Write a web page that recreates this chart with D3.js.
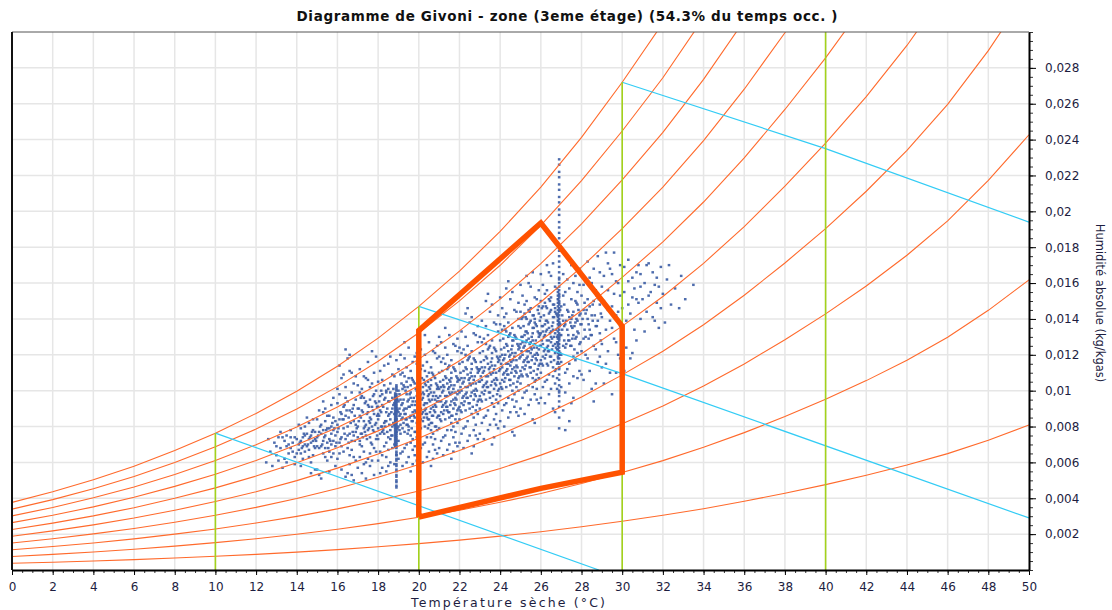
<!DOCTYPE html>
<html><head><meta charset="utf-8">
<script src="https://cdn.jsdelivr.net/npm/d3@7"></script>
<style>
html,body{margin:0;padding:0;background:#fff;}
svg{display:block;font-family:"DejaVu Sans",Verdana,sans-serif;}
</style></head><body>
<svg id="chart" width="1112" height="610"></svg>
<script>
// ---- Chart data -------------------------------------------------------
const chartTitle = "Diagramme de Givoni - zone (3eme étage) (54.3% du temps occ. )";
const xTitle = "Température sèche (°C)";
const yTitle = "Humidité absolue (kg/kgas)";

// Axis ticks
const xTickValues = [0,2,4,6,8,10,12,14,16,18,20,22,24,26,28,30,32,34,36,38,40,42,44,46,48,50];
const yTickValues = [0.002,0.004,0.006,0.008,0.01,0.012,0.014,0.016,0.018,0.02,0.022,0.024,0.026,0.028];
const yTickLabels = ["0,002","0,004","0,006","0,008","0,01","0,012","0,014","0,016","0,018","0,02","0,022","0,024","0,026","0,028"];

// Saturation humidity (g/kg dry air) by dry-bulb temperature
const satTemps    = [0,2,4,6,8,10,12,14,16,18,20,22,24,26,28,30,32,34,36,38,40,42,44,46,48,50];
const satHumidity = [3.77,4.36,5.03,5.79,6.66,7.63,8.73,9.97,11.36,12.93,14.70,16.67,18.88,21.35,24.12,27.2,30.5,34.2,38.3,42.8,47.6,52.8,58.5,64.9,72.4,80.9];
// Relative humidity curves (%)
const rhLevels = [10,20,30,40,50,60,70,80,90,100];

// Dry-bulb markers (°C) and their upper end (g/kg)
const dryBulbT   = [10,20,30,40];
const dryBulbTop = [7.63,14.7,27.2,30];

// Constant-enthalpy lines: [T °C, w g/kg]
const enthalpy10 = [[10,7.63],[28.85,0]];
const enthalpy20 = [[20,14.7],[30,10.95],[50,2.9]];
const enthalpy30 = [[30,27.2],[40,23.5],[50,19.4]];

// Givoni comfort zone outline: [T °C, w g/kg]
const comfortZone = [[20,2.95],[20,13.35],[26,19.35],[30,13.6],[30,5.45],[26,4.55],[20,2.95]];

// Hourly zone conditions during occupancy: [T °C, w g/kg]
const zoneHours = [
[12.5,6.0],[12.7,6.6],[12.8,5.8],[12.9,7.1],[12.6,7.3],[13.0,6.4],
[13.1,7.4],[13.3,7.4],[13.5,7.5],[13.7,7.4],[13.9,7.4],[13.2,6.8],[13.4,6.2],[13.6,7.0],[13.8,6.6],[13.1,6.1],[13.3,5.7],[13.5,6.9],[13.7,7.8],[13.9,6.3],[13.4,7.2],[13.6,6.5],[13.8,7.1],[13.2,7.7],[13.9,5.9],[13.5,6.0],[13.7,6.8],[13.0,6.9],
[14.0,7.3],[14.1,6.7],[14.2,7.9],[14.3,6.2],[14.4,7.5],[14.5,6.9],[14.6,8.2],[14.7,7.1],[14.8,6.4],[14.9,7.7],[14.1,7.0],[14.2,5.8],[14.3,7.4],[14.4,6.6],[14.5,8.5],[14.6,7.3],[14.7,6.0],[14.8,7.8],[14.9,6.8],[14.0,6.5],[14.2,7.2],[14.4,8.0],[14.6,6.3],[14.8,7.2],[14.3,6.9],[14.5,7.6],[14.7,7.5],[14.9,5.6],[14.1,8.1],[14.6,6.7],[14.8,8.4],[14.4,7.0],[14.2,6.5],[14.9,7.3],[14.7,5.4],
[15.0,7.4],[15.1,6.8],[15.2,8.1],[15.3,7.2],[15.4,6.3],[15.5,7.9],[15.6,8.6],[15.7,7.0],[15.8,6.5],[15.9,8.3],[15.0,5.6],[15.1,7.7],[15.2,6.9],[15.3,8.8],[15.4,7.5],[15.5,6.1],[15.6,7.3],[15.7,9.2],[15.8,7.8],[15.9,6.9],[15.0,8.4],[15.2,7.6],[15.4,8.3],[15.6,6.6],[15.8,7.2],[15.1,5.3],[15.3,6.5],[15.5,7.1],[15.7,8.0],[15.9,7.5],[15.2,5.1],[15.4,9.0],[15.6,7.9],[15.8,9.6],[15.0,6.9],[15.3,7.8],[15.5,8.6],[15.7,6.3],[15.9,5.8],[15.1,8.9],[15.4,6.8],[15.6,5.5],[15.8,8.5],[15.3,9.4],[15.7,7.6],
[16.0,7.7],[16.1,8.4],[16.2,6.9],[16.3,9.1],[16.4,7.3],[16.5,8.0],[16.6,6.4],[16.7,8.8],[16.8,7.5],[16.9,9.5],[16.0,6.2],[16.1,7.1],[16.2,8.7],[16.3,7.9],[16.4,10.2],[16.5,6.8],[16.6,7.6],[16.7,9.9],[16.8,8.3],[16.9,6.1],[16.0,9.3],[16.2,10.7],[16.4,8.6],[16.6,11.1],[16.8,10.4],[16.1,11.4],[16.3,10.9],[16.5,11.8],[16.7,11.0],[16.9,10.8],[16.2,5.6],[16.4,5.2],[16.6,5.9],[16.8,5.0],[16.5,5.4],[16.0,8.1],[16.3,6.6],[16.5,9.4],[16.7,7.2],[16.9,8.1],[16.1,9.8],[16.3,8.4],[16.5,7.5],[16.7,6.7],[16.9,7.7],[16.2,7.4],[16.4,9.6],[16.6,8.9],[16.8,6.3],[16.0,10.1],[16.6,12.0],[16.4,12.3],[16.8,9.2],[16.1,6.5],[16.7,5.3],
[17.0,8.0],[17.1,7.2],[17.2,8.9],[17.3,6.6],[17.4,9.4],[17.5,7.8],[17.6,8.5],[17.7,7.0],[17.8,9.8],[17.9,8.2],[17.0,10.3],[17.1,6.3],[17.2,7.6],[17.3,8.3],[17.4,6.0],[17.5,10.6],[17.6,7.4],[17.7,9.1],[17.8,6.8],[17.9,10.0],[17.0,5.7],[17.2,5.4],[17.4,5.1],[17.6,5.8],[17.8,5.3],[17.1,11.2],[17.3,10.8],[17.5,11.6],[17.7,10.4],[17.9,11.9],[17.0,9.0],[17.1,8.6],[17.2,9.7],[17.3,7.9],[17.4,8.1],[17.5,9.2],[17.6,6.5],[17.7,8.0],[17.8,7.7],[17.9,7.3],[17.0,7.4],[17.2,6.9],[17.4,7.5],[17.6,9.5],[17.8,8.7],[17.1,9.9],[17.3,9.6],[17.5,6.2],[17.7,6.1],[17.9,9.3],[17.2,10.1],[17.4,10.7],[17.6,10.2],[17.8,11.0],[17.5,8.8],[17.3,5.9],[17.7,12.2],[17.1,7.0],[17.9,6.6],[17.6,8.2],
[18.0,8.4],[18.1,7.6],[18.2,9.2],[18.3,6.9],[18.4,8.8],[18.5,10.1],[18.6,7.3],[18.7,9.6],[18.8,8.1],[18.9,9.0],[18.0,10.5],[18.1,9.7],[18.2,6.4],[18.3,8.2],[18.4,7.1],[18.5,8.6],[18.6,9.9],[18.7,6.8],[18.8,10.8],[18.9,7.7],[18.0,6.1],[18.2,5.7],[18.4,5.5],[18.6,6.0],[18.8,5.9],[18.1,11.1],[18.3,10.3],[18.5,11.5],[18.7,10.9],[18.9,11.7],[18.0,9.1],[18.1,8.9],[18.2,8.0],[18.3,9.5],[18.4,9.9],[18.5,7.4],[18.6,8.4],[18.7,8.0],[18.8,9.3],[18.9,8.4],[18.0,7.3],[18.2,7.7],[18.4,8.3],[18.6,10.4],[18.8,7.0],[18.1,6.6],[18.3,7.6],[18.5,6.7],[18.7,7.5],[18.9,6.4],[18.2,10.6],[18.4,10.0],[18.6,11.9],[18.8,8.7],[18.0,7.9],[18.3,11.4],[18.5,9.4],[18.7,9.0],[18.1,5.4],[18.9,10.2],[18.4,6.3],[18.6,7.8],[18.2,9.8],[18.0,8.7],[18.5,5.8],
[19.0,8.8],[19.1,9.5],[19.2,7.9],[19.3,10.2],[19.4,8.4],[19.5,9.1],[19.6,7.5],[19.7,10.6],[19.8,8.9],[19.9,9.7],[19.0,7.2],[19.1,10.9],[19.2,9.3],[19.3,6.8],[19.4,11.3],[19.5,8.0],[19.6,9.9],[19.7,7.3],[19.8,10.4],[19.9,8.2],[19.0,10.0],[19.1,8.1],[19.2,11.0],[19.3,9.0],[19.4,7.0],[19.5,10.7],[19.6,8.6],[19.7,9.4],[19.8,7.7],[19.9,11.5],[19.0,6.2],[19.2,5.8],[19.4,6.0],[19.6,5.5],[19.8,6.4],[19.1,12.0],[19.3,11.8],[19.5,12.4],[19.7,11.6],[19.9,12.1],[19.0,9.4],[19.1,7.6],[19.2,8.5],[19.3,8.7],[19.4,9.8],[19.5,7.8],[19.6,10.3],[19.7,8.3],[19.8,9.2],[19.9,7.4],[19.0,11.2],[19.2,6.6],[19.4,10.5],[19.6,11.1],[19.8,6.9],[19.1,6.5],[19.3,7.7],[19.5,6.3],[19.7,6.7],[19.9,10.0],[19.2,10.1],[19.4,9.0],[19.6,9.6],[19.8,11.9],[19.0,8.0],[19.3,12.7],[19.5,9.5],[19.7,8.8],[19.9,6.1],[19.1,8.7],[19.4,8.1],[19.6,7.1],[19.8,8.5],[19.3,10.8],[19.7,5.9],
[20.0,9.0],[20.1,9.8],[20.2,8.3],[20.3,10.4],[20.4,8.7],[20.5,9.5],[20.6,7.8],[20.7,10.9],[20.8,9.2],[20.9,10.1],[20.0,7.5],[20.1,11.2],[20.2,9.6],[20.3,7.1],[20.4,11.6],[20.5,8.4],[20.6,10.3],[20.7,7.6],[20.8,10.7],[20.9,8.5],[20.0,10.6],[20.1,8.4],[20.2,11.4],[20.3,9.3],[20.4,7.4],[20.5,11.0],[20.6,9.0],[20.7,9.7],[20.8,8.0],[20.9,11.8],[20.0,6.4],[20.2,6.0],[20.4,6.3],[20.6,5.8],[20.8,6.7],[20.1,12.3],[20.3,12.0],[20.5,12.7],[20.7,12.2],[20.9,12.5],[20.0,9.7],[20.1,7.9],[20.2,8.8],[20.3,8.9],[20.4,10.0],[20.5,8.1],[20.6,10.6],[20.7,8.6],[20.8,9.5],[20.9,7.8],[20.0,11.5],[20.2,7.0],[20.4,10.8],[20.6,11.3],[20.8,7.3],[20.1,6.8],[20.3,8.0],[20.5,6.6],[20.7,7.0],[20.9,10.3],[20.2,10.2],[20.4,9.3],[20.6,9.9],[20.8,12.1],[20.0,8.2],[20.3,13.1],[20.5,9.8],[20.7,9.1],[20.9,6.5],[20.1,9.0],[20.4,8.5],[20.6,7.4],[20.8,8.8],[20.3,11.1],[20.7,6.2],[20.5,10.2],[20.9,9.4],[20.2,9.9],[20.6,8.2],[20.0,12.9],
[21.0,9.4],[21.1,10.2],[21.2,8.7],[21.3,10.8],[21.4,9.1],[21.5,9.9],[21.6,8.2],[21.7,11.3],[21.8,9.6],[21.9,10.5],[21.0,7.9],[21.1,11.6],[21.2,10.0],[21.3,7.5],[21.4,12.0],[21.5,8.8],[21.6,10.7],[21.7,8.0],[21.8,11.1],[21.9,8.9],[21.0,11.0],[21.1,8.8],[21.2,11.8],[21.3,9.7],[21.4,7.8],[21.5,11.4],[21.6,9.4],[21.7,10.1],[21.8,8.4],[21.9,12.2],[21.0,6.8],[21.2,6.4],[21.4,6.7],[21.6,6.2],[21.8,7.1],[21.1,12.7],[21.3,12.4],[21.5,13.1],[21.7,12.6],[21.9,12.9],[21.0,10.1],[21.1,8.3],[21.2,9.2],[21.3,9.3],[21.4,10.4],[21.5,8.5],[21.6,11.0],[21.7,9.0],[21.8,9.9],[21.9,8.2],[21.0,11.9],[21.2,7.4],[21.4,11.2],[21.6,11.7],[21.8,7.7],[21.1,7.2],[21.3,8.4],[21.5,7.0],[21.7,7.4],[21.9,10.7],[21.2,10.6],[21.4,9.7],[21.6,10.3],[21.8,12.5],[21.0,8.6],[21.3,13.5],[21.5,10.2],[21.7,9.5],[21.9,6.9],[21.1,9.4],[21.4,8.9],[21.6,7.8],[21.8,9.2],[21.3,11.5],[21.7,6.6],[21.5,10.6],[21.9,9.8],[21.2,10.3],[21.6,8.6],[21.0,13.0],
[22.0,9.9],[22.1,10.7],[22.2,9.2],[22.3,11.3],[22.4,9.6],[22.5,10.4],[22.6,8.7],[22.7,11.8],[22.8,10.1],[22.9,11.0],[22.0,8.4],[22.1,12.1],[22.2,10.5],[22.3,8.0],[22.4,12.5],[22.5,9.3],[22.6,11.2],[22.7,8.5],[22.8,11.6],[22.9,9.4],[22.0,11.5],[22.1,9.3],[22.2,12.3],[22.3,10.2],[22.4,8.3],[22.5,11.9],[22.6,9.9],[22.7,10.6],[22.8,8.9],[22.9,12.7],[22.0,7.1],[22.2,6.8],[22.4,7.2],[22.6,6.5],[22.8,7.5],[22.1,13.3],[22.3,13.0],[22.5,13.8],[22.7,13.2],[22.9,13.6],[22.0,10.6],[22.1,8.8],[22.2,9.7],[22.3,9.8],[22.4,10.9],[22.5,9.0],[22.6,11.5],[22.7,9.5],[22.8,10.4],[22.9,8.7],[22.0,12.4],[22.2,7.9],[22.4,11.7],[22.6,12.2],[22.8,8.1],[22.1,7.6],[22.3,8.9],[22.5,7.5],[22.7,7.8],[22.9,11.2],[22.2,11.1],[22.4,10.2],[22.6,10.8],[22.8,13.1],[22.0,9.1],[22.3,14.3],[22.5,10.7],[22.7,10.0],[22.9,7.3],[22.1,10.0],[22.4,14.6],[22.6,14.1],[22.8,9.7],[22.3,12.0],[22.7,6.9],
[23.0,10.5],[23.1,11.3],[23.2,9.8],[23.3,11.9],[23.4,10.2],[23.5,11.0],[23.6,9.3],[23.7,12.4],[23.8,10.7],[23.9,11.6],[23.0,9.0],[23.1,12.7],[23.2,11.1],[23.3,8.6],[23.4,13.1],[23.5,9.9],[23.6,11.8],[23.7,9.1],[23.8,12.2],[23.9,10.0],[23.0,12.1],[23.1,9.9],[23.2,12.9],[23.3,10.8],[23.4,8.9],[23.5,12.5],[23.6,10.5],[23.7,11.2],[23.8,9.5],[23.9,13.3],[23.0,7.6],[23.2,7.3],[23.4,7.8],[23.6,7.0],[23.8,8.1],[23.1,13.9],[23.3,13.6],[23.5,14.4],[23.7,13.8],[23.9,14.2],[23.0,11.2],[23.1,9.4],[23.2,10.3],[23.3,10.4],[23.4,11.5],[23.5,9.6],[23.6,12.1],[23.7,10.1],[23.8,11.0],[23.9,9.3],[23.0,13.0],[23.2,8.5],[23.4,12.3],[23.6,12.8],[23.8,8.7],[23.1,8.2],[23.3,9.5],[23.5,8.1],[23.7,8.4],[23.9,11.8],[23.2,11.7],[23.4,10.8],[23.6,11.4],[23.8,13.7],[23.0,9.7],[23.3,15.0],[23.5,11.3],[23.7,10.6],[23.9,7.9],[23.1,10.6],[23.4,15.4],[23.6,14.8],[23.8,10.3],[23.3,12.6],[23.7,7.4],
[24.0,11.2],[24.1,12.0],[24.2,10.5],[24.3,12.6],[24.4,10.9],[24.5,11.7],[24.6,10.0],[24.7,13.1],[24.8,11.4],[24.9,12.3],[24.0,9.7],[24.1,13.4],[24.2,11.8],[24.3,9.3],[24.4,13.8],[24.5,10.6],[24.6,12.5],[24.7,9.8],[24.8,12.9],[24.9,10.7],[24.0,12.8],[24.1,10.6],[24.2,13.6],[24.3,11.5],[24.4,9.6],[24.5,13.2],[24.6,11.2],[24.7,11.9],[24.8,10.2],[24.9,14.0],[24.0,8.3],[24.2,8.0],[24.4,8.5],[24.6,7.7],[24.8,8.8],[24.1,14.6],[24.3,14.3],[24.5,15.1],[24.7,14.5],[24.9,14.9],[24.0,11.9],[24.1,10.1],[24.2,11.0],[24.3,11.1],[24.4,12.2],[24.5,10.3],[24.6,12.8],[24.7,10.8],[24.8,11.7],[24.9,10.0],[24.0,13.7],[24.2,9.2],[24.4,13.0],[24.6,13.5],[24.8,9.4],[24.1,8.9],[24.3,10.2],[24.5,8.8],[24.7,9.1],[24.9,12.5],[24.2,12.4],[24.4,11.5],[24.6,12.1],[24.8,14.4],[24.0,10.4],[24.3,15.7],[24.5,12.0],[24.7,11.3],[24.9,8.6],[24.1,11.3],[24.4,16.1],[24.6,15.5],[24.8,11.0],[24.3,13.3],[24.7,7.5],[24.5,11.4],[24.9,13.6],[24.2,14.1],[24.6,9.5],[24.0,15.2],
[25.0,11.9],[25.1,12.7],[25.2,11.2],[25.3,13.3],[25.4,11.6],[25.5,12.4],[25.6,10.7],[25.7,13.8],[25.8,12.1],[25.9,13.0],[25.0,10.4],[25.1,14.1],[25.2,12.5],[25.3,10.0],[25.4,14.5],[25.5,11.3],[25.6,13.2],[25.7,10.5],[25.8,13.6],[25.9,11.4],[25.0,13.5],[25.1,11.3],[25.2,14.3],[25.3,12.2],[25.4,10.3],[25.5,13.9],[25.6,11.9],[25.7,12.6],[25.8,10.9],[25.9,14.7],[25.0,9.0],[25.2,8.7],[25.4,9.2],[25.6,8.4],[25.8,9.5],[25.1,15.3],[25.3,15.0],[25.5,15.8],[25.7,15.2],[25.9,15.6],[25.0,12.6],[25.1,10.8],[25.2,11.7],[25.3,11.8],[25.4,12.9],[25.5,11.0],[25.6,13.5],[25.7,11.5],[25.8,12.4],[25.9,10.7],[25.0,14.4],[25.2,9.9],[25.4,13.7],[25.6,14.2],[25.8,10.1],[25.1,9.6],[25.3,10.9],[25.5,9.5],[25.7,9.8],[25.9,13.2],[25.2,13.1],[25.4,12.2],[25.6,12.8],[25.8,15.1],[25.0,11.1],[25.3,16.4],[25.5,12.7],[25.7,12.0],[25.9,9.3],[25.1,12.0],[25.4,16.0],[25.6,16.6],[25.8,11.7],[25.3,14.0],[25.7,8.2],[25.5,12.1],[25.9,14.3],[25.2,14.8],[25.6,10.2],[25.0,15.9],[25.1,13.0],[25.3,12.8],[25.5,14.6],[25.7,14.0],[25.9,12.3],
[26.0,12.5],[26.1,13.3],[26.2,11.8],[26.3,13.9],[26.4,12.2],[26.5,13.0],[26.6,11.3],[26.7,14.4],[26.8,12.7],[26.9,13.6],[26.0,11.0],[26.1,14.7],[26.2,13.1],[26.3,10.6],[26.4,15.1],[26.5,11.9],[26.6,13.8],[26.7,11.1],[26.8,14.2],[26.9,12.0],[26.0,14.1],[26.1,11.9],[26.2,14.9],[26.3,12.8],[26.4,10.9],[26.5,14.5],[26.6,12.5],[26.7,13.2],[26.8,11.5],[26.9,15.3],[26.0,9.6],[26.2,9.3],[26.4,9.8],[26.6,9.0],[26.8,10.1],[26.1,15.9],[26.3,15.6],[26.5,16.4],[26.7,15.8],[26.9,16.2],[26.0,13.2],[26.1,11.4],[26.2,12.3],[26.3,12.4],[26.4,13.5],[26.5,11.6],[26.6,14.1],[26.7,12.1],[26.8,13.0],[26.9,11.3],[26.0,15.0],[26.2,10.5],[26.4,14.3],[26.6,14.8],[26.8,10.7],[26.1,10.2],[26.3,11.5],[26.5,10.1],[26.7,10.4],[26.9,13.8],[26.2,13.7],[26.4,12.8],[26.6,13.4],[26.8,15.7],[26.0,11.7],[26.3,17.0],[26.5,13.3],[26.7,12.6],[26.9,9.9],[26.1,12.6],[26.4,16.6],[26.6,17.1],[26.8,12.3],[26.3,14.6],[26.7,8.8],[26.5,12.7],[26.9,14.9],[26.2,15.4],[26.6,10.8],[26.0,16.5],[26.1,13.6],[26.3,13.4],[26.5,15.2],[26.7,14.6],[26.9,12.9],
[27.0,13.1],[27.1,13.9],[27.2,12.4],[27.3,14.5],[27.4,12.8],[27.5,13.6],[27.6,11.9],[27.7,15.0],[27.8,13.3],[27.9,14.2],[27.0,11.6],[27.1,15.3],[27.2,13.7],[27.3,11.2],[27.4,15.7],[27.5,12.5],[27.6,14.4],[27.7,11.7],[27.8,14.8],[27.9,12.6],[27.0,14.7],[27.1,12.5],[27.2,15.5],[27.3,13.4],[27.4,11.5],[27.5,15.1],[27.6,13.1],[27.7,13.8],[27.8,12.1],[27.9,15.9],[27.0,10.2],[27.2,9.9],[27.4,10.4],[27.6,9.6],[27.8,10.7],[27.1,16.5],[27.3,16.2],[27.5,17.0],[27.7,16.4],[27.9,16.8],[27.0,12.0],[27.2,11.0],[27.4,14.1],[27.6,10.8],[27.8,13.9],[27.1,8.9],[27.3,17.4],[27.5,9.3],[27.7,12.9],[27.9,11.1],[27.2,7.8],[27.4,8.3],[27.6,16.0],[27.8,15.5],[27.5,14.0],
[28.0,13.7],[28.1,14.5],[28.2,13.0],[28.3,15.1],[28.4,13.4],[28.5,14.2],[28.6,12.5],[28.7,15.6],[28.8,13.9],[28.9,14.8],[28.0,12.2],[28.1,15.9],[28.2,14.3],[28.3,11.8],[28.4,16.3],[28.5,13.1],[28.6,15.0],[28.7,12.3],[28.8,15.4],[28.9,13.2],[28.0,15.3],[28.2,16.1],[28.4,11.1],[28.6,16.8],[28.8,11.6],[28.1,10.6],[28.3,17.2],[28.5,10.1],[28.7,13.6],[28.9,16.6],[28.0,10.9],[28.2,12.0],[28.4,14.7],[28.6,9.4],[28.8,17.5],[28.1,12.9],[28.3,14.0],[28.5,16.0],[28.7,10.4],[28.9,11.9],
[29.0,14.1],[29.1,15.0],[29.2,13.4],[29.3,15.6],[29.4,13.9],[29.5,14.7],[29.6,12.9],[29.7,16.1],[29.8,14.4],[29.9,15.3],[29.0,12.6],[29.1,16.4],[29.2,17.7],[29.3,12.2],[29.4,16.8],[29.5,13.5],[29.6,17.7],[29.7,12.7],[29.8,16.0],[29.9,13.6],[29.0,15.8],[29.2,11.5],[29.4,11.0],[29.6,15.4],[29.8,12.0],[29.1,10.4],[29.3,17.1],[29.5,9.8],[29.7,14.2],[29.9,17.0],[29.0,11.3],[29.3,14.5],[29.5,16.5],[29.7,11.0],[29.9,11.8],
[30.0,14.6],[30.1,15.5],[30.2,13.9],[30.3,16.1],[30.4,14.3],[30.5,15.2],[30.6,13.4],[30.7,16.6],[30.8,14.9],[30.9,15.8],[30.0,13.1],[30.1,16.9],[30.2,12.4],[30.3,17.3],[30.4,11.8],[30.5,16.3],[30.6,15.7],[30.7,12.8],[30.8,17.0],[30.9,14.0],[30.1,11.1],[30.3,14.8],[30.5,12.1],[30.7,15.1],[30.9,16.5],
[31.0,15.1],[31.1,16.0],[31.2,14.4],[31.3,17.1],[31.4,15.5],[31.5,16.6],[31.6,13.9],[31.7,14.9],[31.8,15.8],[31.9,16.9],[31.1,13.3],[31.3,15.3],[31.5,14.1],[31.7,16.3],[31.9,14.6],[31.2,17.0],[31.6,15.9],[31.8,13.5],
[32.0,15.4],[32.2,16.2],[32.3,17.0],[32.4,14.8],[32.6,15.7],[32.8,14.6],[32.9,16.4],[33.1,15.1],[33.5,15.9],[32.1,13.8]
];

// Most frequent conditions (core of the cloud): [T °C, w g/kg]
const zoneHoursCore = [
[14.15,7.1],[14.35,7.6],[14.55,7.0],[14.75,7.7],[14.95,7.2],[14.25,6.8],[14.65,7.4],[14.85,6.9],
[15.05,7.5],[15.25,7.0],[15.45,7.8],[15.65,7.2],[15.85,7.9],[15.15,8.0],[15.35,7.4],[15.55,6.8],[15.75,8.2],[15.95,7.1],
[16.05,7.9],[16.15,7.3],[16.25,8.4],[16.35,7.6],[16.45,8.9],[16.55,7.1],[16.65,8.2],[16.75,7.7],[16.85,8.6],[16.95,7.9],[16.15,8.8],[16.55,8.5],[16.85,7.2],[16.35,9.2],[16.75,9.0],
[17.05,8.3],[17.15,7.6],[17.25,8.8],[17.35,8.0],[17.45,7.3],[17.55,9.1],[17.65,8.4],[17.75,7.8],[17.85,9.4],[17.95,8.6],[17.05,9.0],[17.15,8.5],[17.25,7.4],[17.35,9.3],[17.45,8.7],[17.55,7.9],[17.65,7.1],[17.75,8.9],[17.85,8.1],[17.95,7.5],[17.15,9.6],[17.35,7.7],[17.55,8.3],[17.75,9.7],[17.95,9.1],
[18.05,8.6],[18.15,8.0],[18.25,9.1],[18.35,8.3],[18.45,7.7],[18.55,9.4],[18.65,8.8],[18.75,8.2],[18.85,9.7],[18.95,8.9],[18.05,9.4],[18.15,8.8],[18.25,7.8],[18.35,9.6],[18.45,9.0],[18.55,8.1],[18.65,7.5],[18.75,9.2],[18.85,8.4],[18.95,7.9],[18.15,10.0],[18.35,8.0],[18.55,8.7],[18.75,10.1],[18.95,9.5],
[19.05,9.0],[19.15,8.4],[19.25,9.5],[19.35,8.7],[19.45,8.1],[19.55,9.8],[19.65,9.2],[19.75,8.6],[19.85,10.1],[19.95,9.3],[19.05,9.8],[19.15,9.2],[19.25,8.2],[19.35,10.0],[19.45,9.4],[19.55,8.5],[19.65,7.9],[19.75,9.6],[19.85,8.8],[19.95,8.3],[19.15,10.4],[19.35,8.4],[19.55,9.1],[19.75,10.5],[19.95,9.9],[19.05,8.6],[19.25,8.9],[19.45,10.2],[19.65,8.3],[19.85,9.4],[19.05,7.8],[19.25,10.3],[19.45,7.6],[19.65,10.7],[19.85,7.7],
[20.05,9.3],[20.15,8.7],[20.25,9.8],[20.35,9.0],[20.45,8.4],[20.55,10.1],[20.65,9.5],[20.75,8.9],[20.85,10.4],[20.95,9.6],[20.05,10.1],[20.15,9.5],[20.25,8.5],[20.35,10.3],[20.45,9.7],[20.55,8.8],[20.65,8.2],[20.75,9.9],[20.85,9.1],[20.95,8.6],[20.15,10.7],[20.35,8.7],[20.55,9.4],[20.75,10.8],[20.95,10.2],[20.05,8.9],[20.25,9.2],[20.45,10.5],[20.65,8.6],[20.85,9.7],[20.05,8.1],[20.25,10.6],[20.45,7.9],[20.65,11.0],[20.85,8.0],
[21.05,9.7],[21.15,9.1],[21.25,10.2],[21.35,9.4],[21.45,8.8],[21.55,10.5],[21.65,9.9],[21.75,9.3],[21.85,10.8],[21.95,10.0],[21.05,10.5],[21.15,9.9],[21.25,8.9],[21.35,10.7],[21.45,10.1],[21.55,9.2],[21.65,8.6],[21.75,10.3],[21.85,9.5],[21.95,9.0],[21.15,11.1],[21.35,9.1],[21.55,9.8],[21.75,11.2],[21.95,10.6],[21.05,8.4],[21.45,11.3],[21.85,8.7],
[22.05,10.2],[22.15,9.6],[22.25,10.7],[22.35,9.9],[22.45,9.3],[22.55,11.0],[22.65,10.4],[22.75,9.8],[22.85,11.3],[22.95,10.5],[22.05,11.0],[22.15,10.4],[22.25,9.4],[22.35,11.2],[22.45,10.6],[22.55,9.7],[22.65,9.1],[22.75,10.8],[22.85,10.0],[22.95,9.5],[22.15,11.6],[22.35,9.6],[22.55,10.3],[22.75,11.7],[22.95,11.1],[22.05,8.9],[22.45,11.8],[22.85,9.2],
[23.05,10.8],[23.15,10.2],[23.25,11.3],[23.35,10.5],[23.45,9.9],[23.55,11.6],[23.65,11.0],[23.75,10.4],[23.85,11.9],[23.95,11.1],[23.05,11.6],[23.15,11.0],[23.25,10.0],[23.35,11.8],[23.45,11.2],[23.55,10.3],[23.65,9.7],[23.75,11.4],[23.85,10.6],[23.95,10.1],[23.15,12.2],[23.35,10.2],[23.55,10.9],[23.75,12.3],[23.95,11.7],[23.05,9.5],[23.45,12.4],[23.85,9.8],
[24.05,11.5],[24.15,10.9],[24.25,12.0],[24.35,11.2],[24.45,10.6],[24.55,12.3],[24.65,11.7],[24.75,11.1],[24.85,12.6],[24.95,11.8],[24.05,12.3],[24.15,11.7],[24.25,10.7],[24.35,12.5],[24.45,11.9],[24.55,11.0],[24.65,10.4],[24.75,12.1],[24.85,11.3],[24.95,10.8],[24.15,12.9],[24.35,10.9],[24.55,11.6],[24.75,13.0],[24.95,12.4],[24.05,10.2],[24.45,13.1],[24.85,10.5],[24.25,13.4],[24.65,12.8],
[25.05,12.2],[25.15,11.6],[25.25,12.7],[25.35,11.9],[25.45,11.3],[25.55,13.0],[25.65,12.4],[25.75,11.8],[25.85,13.3],[25.95,12.5],[25.05,13.0],[25.15,12.4],[25.25,11.4],[25.35,13.2],[25.45,12.6],[25.55,11.7],[25.65,11.1],[25.75,12.8],[25.85,12.0],[25.95,11.5],[25.15,13.6],[25.35,11.6],[25.55,12.3],[25.75,13.7],[25.95,13.1],[25.05,10.9],[25.45,13.8],[25.85,11.2],[25.25,14.1],[25.65,13.5],[25.05,14.0],[25.25,13.3],[25.45,14.4],[25.65,14.2],[25.85,14.5],[25.95,13.9],[25.35,10.8],[25.75,10.6],
[26.05,12.8],[26.15,12.2],[26.25,13.3],[26.35,12.5],[26.45,11.9],[26.55,13.6],[26.65,13.0],[26.75,12.4],[26.85,13.9],[26.95,13.1],[26.05,13.6],[26.15,13.0],[26.25,12.0],[26.35,13.8],[26.45,13.2],[26.55,12.3],[26.65,11.7],[26.75,13.4],[26.85,12.6],[26.95,12.1],[26.15,14.2],[26.35,12.2],[26.55,12.9],[26.75,14.3],[26.95,13.7],[26.05,11.5],[26.45,14.4],[26.85,11.8],[26.25,14.7],[26.65,14.1],[26.05,14.6],[26.25,13.9],[26.45,15.0],[26.65,14.8],[26.85,15.1],[26.95,14.5],[26.35,11.4],[26.75,11.2],
[27.05,13.4],[27.15,12.8],[27.25,13.9],[27.35,13.1],[27.45,12.5],[27.55,14.2],[27.65,13.6],[27.75,13.0],[27.85,14.5],[27.95,13.7],[27.05,14.2],[27.15,13.6],[27.25,12.6],[27.35,14.4],[27.45,13.8],[27.55,12.9],[27.65,12.3],[27.75,14.0],[27.85,13.2],[27.95,12.7],[27.15,14.8],[27.35,12.8],[27.55,13.5],[27.75,14.9],[27.95,14.3],
[28.05,14.0],[28.15,13.4],[28.25,14.5],[28.35,13.7],[28.45,13.1],[28.55,14.8],[28.65,14.2],[28.75,13.6],[28.85,15.1],[28.95,14.3],[28.15,14.9],[28.35,12.9],[28.55,13.9],[28.75,15.3],[28.95,12.8]
];

// Hours held at the heating setpoint (~18.9 °C): humidity values (g/kg)
const setpointLowT = 18.9;
const setpointLowW = [4.6,4.7,4.9,5.0,5.2,5.3,5.5,5.6,5.8,5.9,6.1,6.2,6.4,6.5,6.6,6.8,6.9,7.0,7.1,7.2,7.3,7.4,7.5,7.6,7.7,7.8,7.9,8.0,8.1,8.2,8.3,8.4,8.5,8.6,8.7,8.8,8.9,9.0,9.1,9.2,9.3,9.4,9.5,9.6,9.7,9.8,10.0,10.1,10.3];
// Hours held at the cooling setpoint (~26.9 °C): humidity values (g/kg)
const setpointHighT = 26.9;
const setpointHighW = [22.9,22.6,22.2,21.9,21.5,21.2,20.8,20.5,20.1,19.8,19.4,19.1,18.8,18.5,18.1,17.8,17.5,17.2,16.9,16.6,16.3,16.0,15.8,15.6,15.4,15.2,15.0,14.8,14.6,14.4,14.2,14.0,13.8,13.6,13.4,13.2,13.0,12.8,12.6,12.4,12.2,12.0,11.8,11.5,11.2,10.9,10.6,10.3,10.0,9.7,9.4,9.1,8.5,7.9];

// ---- Layout -----------------------------------------------------------
const margin = {left: 12, right: 1029, top: 32, bottom: 570};
const svg = d3.select("#chart");
const x = d3.scaleLinear().domain([0, 50]).range([margin.left, margin.right]);
const y = d3.scaleLinear().domain([0, 0.030]).range([margin.bottom, margin.top]);
const gkg = v => v / 1000;   // g/kg -> kg/kg

svg.append("defs").append("clipPath").attr("id", "plotClip")
  .append("rect").attr("x", margin.left).attr("y", margin.top)
  .attr("width", margin.right - margin.left).attr("height", margin.bottom - margin.top);

// Grid
const grid = svg.append("g").attr("stroke", "#e6e6e6").attr("stroke-width", 1.5);
grid.selectAll("line.v").data(xTickValues.filter(d => d > 0 && d < 50)).join("line")
  .attr("x1", d => x(d)).attr("x2", d => x(d)).attr("y1", margin.top).attr("y2", margin.bottom);
grid.selectAll("line.h").data(yTickValues).join("line").attr("class", "h")
  .attr("x1", margin.left).attr("x2", margin.right).attr("y1", d => y(d)).attr("y2", d => y(d));

const plot = svg.append("g").attr("clip-path", "url(#plotClip)");

// Scatter of zone conditions
const dots = plot.append("g").attr("fill", "#3f5fa6").attr("fill-opacity", 0.92);
const allPoints = zoneHours.concat(zoneHoursCore)
  .concat(setpointLowW.map(w => [setpointLowT, w]))
  .concat(setpointLowW.filter(w => w >= 6.8 && w <= 9.8).map(w => [setpointLowT - 0.06, w + 0.05]))
  .concat(setpointHighW.map(w => [setpointHighT, w]))
  .concat(setpointHighW.filter(w => w >= 11.5 && w <= 15.4).map(w => [setpointHighT - 0.06, w + 0.1]));
dots.selectAll("rect").data(allPoints).join("rect")
  .attr("x", d => x(d[0]) - 1.3).attr("y", d => y(gkg(d[1])) - 1.2)
  .attr("width", 2.6).attr("height", 2.4);

// Relative humidity curves
const rhLine = d3.line().x(d => x(d[0])).y(d => y(gkg(d[1])));
plot.append("g").selectAll("path").data(rhLevels).join("path")
  .attr("d", rh => rhLine(satTemps.map((t, i) => [t, satHumidity[i] * rh / 100])))
  .attr("fill", "none").attr("stroke", "#ff6a2c").attr("stroke-width", 1.1);

// Constant-enthalpy lines
plot.append("g").selectAll("path").data([enthalpy10, enthalpy20, enthalpy30]).join("path")
  .attr("d", rhLine).attr("fill", "none").attr("stroke", "#33ccf5").attr("stroke-width", 1.2);

// Dry-bulb reference lines
plot.append("g").selectAll("line").data(dryBulbT).join("line")
  .attr("x1", d => x(d)).attr("x2", d => x(d))
  .attr("y1", y(0)).attr("y2", (d, i) => y(gkg(dryBulbTop[i])))
  .attr("stroke", "#a3d21c").attr("stroke-width", 1.6);

// Givoni comfort zone
plot.append("path").attr("d", rhLine(comfortZone))
  .attr("fill", "none").attr("stroke", "#ff5200").attr("stroke-width", 5.5)
  .attr("stroke-linejoin", "miter");

// Frame
svg.append("line").attr("x1", margin.left).attr("x2", margin.right)
  .attr("y1", margin.top).attr("y2", margin.top).attr("stroke", "#555").attr("stroke-width", 1);
svg.append("line").attr("x1", margin.left).attr("x2", margin.left)
  .attr("y1", margin.top).attr("y2", margin.bottom).attr("stroke", "#111").attr("stroke-width", 2);

// X axis
const labelColor = "#1d1d3f";
const xMinor = d3.range(0, 50.01, 0.5);
svg.append("g").attr("transform", `translate(0,${margin.bottom})`)
  .call(d3.axisBottom(x).tickValues(xMinor).tickSize(3).tickFormat(""))
  .call(g => g.select(".domain").remove())
  .selectAll("line").attr("stroke", "#333");
const xAxis = svg.append("g").attr("transform", `translate(0,${margin.bottom})`)
  .call(d3.axisBottom(x).tickValues(xTickValues).tickSize(5).tickSizeOuter(0).tickPadding(7).tickFormat(d => d));
xAxis.select(".domain").attr("stroke", "#000").attr("stroke-width", 2);
xAxis.selectAll("text").attr("font-size", 12).attr("fill", labelColor).attr("font-family", '"DejaVu Sans",Verdana,sans-serif');

// Y axis (right)
const yMinor = d3.range(0, 0.03001, 0.0005);
svg.append("g").attr("transform", `translate(${margin.right},0)`)
  .call(d3.axisRight(y).tickValues(yMinor).tickSize(4).tickFormat(""))
  .call(g => g.select(".domain").remove())
  .selectAll("line").attr("stroke", "#333");
const yAxis = svg.append("g").attr("transform", `translate(${margin.right},0)`)
  .call(d3.axisRight(y).tickValues(yTickValues).tickSize(7).tickSizeOuter(0).tickPadding(9)
    .tickFormat((d, i) => yTickLabels[i]));
yAxis.select(".domain").attr("stroke", "#000").attr("stroke-width", 2);
yAxis.selectAll("text").attr("font-size", 12).attr("fill", labelColor).attr("font-family", '"DejaVu Sans",Verdana,sans-serif');

// Titles
svg.append("text").attr("x", 567).attr("y", 21).attr("text-anchor", "middle")
  .attr("font-size", 13.5).attr("font-weight", "bold").attr("fill", "#111")
  .attr("textLength", 541).attr("lengthAdjust", "spacing").text(chartTitle);
svg.append("text").attr("x", 508).attr("y", 607).attr("text-anchor", "middle")
  .attr("font-size", 12.5).attr("fill", labelColor)
  .attr("textLength", 194).attr("lengthAdjust", "spacing").text(xTitle);
svg.append("text").attr("transform", "translate(1096,303) rotate(90)").attr("text-anchor", "middle")
  .attr("font-size", 11.5).attr("fill", labelColor).text(yTitle);
</script>
</body></html>
